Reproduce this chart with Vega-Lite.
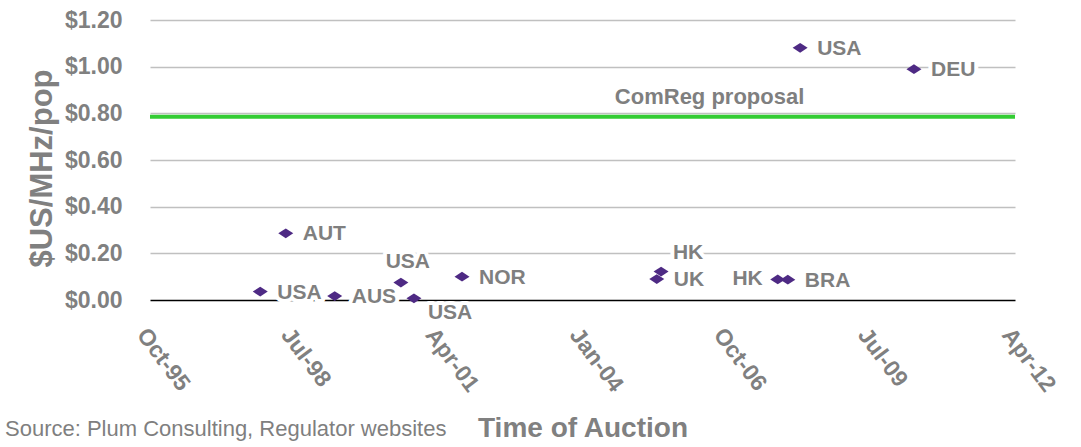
{
  "$schema": "https://vega.github.io/schema/vega-lite/v6.json",
  "width": 865,
  "height": 280,
  "autosize": {"type": "none"},
  "padding": {"left": 150, "top": 20, "right": 66, "bottom": 147},
  "background": "white",
  "config": {"view": {"stroke": null}, "font": "Liberation Sans"},
  "title": {
    "text": "Source: Plum Consulting, Regulator websites",
    "orient": "bottom",
    "anchor": "start",
    "frame": "group",
    "offset": -23,
    "dx": -145,
    "fontSize": 22,
    "font": "Liberation Sans",
    "fontWeight": "normal",
    "color": "#7F7F7F"
  },
  "datasets": {
    "auctions": [
      {"date": "1997-11-07", "value": 0.036, "country": "USA"},
      {"date": "1998-05-04", "value": 0.286, "country": "AUT"},
      {"date": "1999-04-10", "value": 0.017, "country": "AUS"},
      {"date": "2000-07-14", "value": 0.075, "country": "USA"},
      {"date": "2000-10-13", "value": 0.007, "country": "USA"},
      {"date": "2001-09-13", "value": 0.1, "country": "NOR"},
      {"date": "2005-06-01", "value": 0.09, "country": "UK"},
      {"date": "2005-07-01", "value": 0.122, "country": "HK"},
      {"date": "2007-09-22", "value": 0.088, "country": "HK"},
      {"date": "2007-12-01", "value": 0.087, "country": "BRA"},
      {"date": "2008-02-25", "value": 1.081, "country": "USA"},
      {"date": "2010-04-28", "value": 0.989, "country": "DEU"}
    ],
    "comreg": [
      {"date": "2004-08-13", "value": 0.785, "country": "ComReg proposal"}
    ]
  },
  "layer": [
    {
      "data": {"name": "comreg"},
      "mark": {"type": "rule", "color": "#33CC33", "strokeWidth": 4},
      "encoding": {"y": {"field": "value", "type": "quantitative"}}
    },
    {
      "data": {"name": "comreg"},
      "mark": {"type": "text", "align": "left", "baseline": "middle", "dy": -20, "fontSize": 22, "fontWeight": "bold", "color": "#7F7F7F"},
      "encoding": {
        "x": {"field": "date", "type": "temporal"},
        "y": {"field": "value", "type": "quantitative"},
        "text": {"field": "country"}
      }
    },
    {
      "data": {"name": "auctions"},
      "transform": [{"filter": {"not": {"field": "value", "oneOf": [0.075, 0.007, 0.122, 0.088]}}}],
      "mark": {"type": "text", "align": "left", "baseline": "middle", "dx": 17, "dy": 1, "fontSize": 21, "fontWeight": "bold", "color": "white", "stroke": "white", "strokeWidth": 8, "strokeJoin": "round"},
      "encoding": {"x": {"field": "date", "type": "temporal"}, "y": {"field": "value", "type": "quantitative"}, "text": {"field": "country"}}
    },
    {
      "data": {"name": "auctions"},
      "transform": [{"filter": {"field": "value", "equal": 0.075}}],
      "mark": {"type": "text", "align": "center", "baseline": "middle", "dx": 7, "dy": -21, "fontSize": 21, "fontWeight": "bold", "color": "white", "stroke": "white", "strokeWidth": 8, "strokeJoin": "round"},
      "encoding": {"x": {"field": "date", "type": "temporal"}, "y": {"field": "value", "type": "quantitative"}, "text": {"field": "country"}}
    },
    {
      "data": {"name": "auctions"},
      "transform": [{"filter": {"field": "value", "equal": 0.122}}],
      "mark": {"type": "text", "align": "center", "baseline": "middle", "dx": 27, "dy": -19, "fontSize": 21, "fontWeight": "bold", "color": "white", "stroke": "white", "strokeWidth": 8, "strokeJoin": "round"},
      "encoding": {"x": {"field": "date", "type": "temporal"}, "y": {"field": "value", "type": "quantitative"}, "text": {"field": "country"}}
    },
    {
      "data": {"name": "auctions"},
      "transform": [{"filter": {"field": "value", "equal": 0.007}}],
      "mark": {"type": "text", "align": "left", "baseline": "middle", "dx": 14, "dy": 15, "fontSize": 21, "fontWeight": "bold", "color": "white", "stroke": "white", "strokeWidth": 8, "strokeJoin": "round"},
      "encoding": {"x": {"field": "date", "type": "temporal"}, "y": {"field": "value", "type": "quantitative"}, "text": {"field": "country"}}
    },
    {
      "data": {"name": "auctions"},
      "transform": [{"filter": {"field": "value", "equal": 0.088}}],
      "mark": {"type": "text", "align": "right", "baseline": "middle", "dx": -15, "dy": 0, "fontSize": 21, "fontWeight": "bold", "color": "white", "stroke": "white", "strokeWidth": 8, "strokeJoin": "round"},
      "encoding": {"x": {"field": "date", "type": "temporal"}, "y": {"field": "value", "type": "quantitative"}, "text": {"field": "country"}}
    },
    {
      "data": {"name": "auctions"},
      "mark": {"type": "point", "shape": "M-1,0L0,-0.65L1,0L0,0.65Z", "filled": true, "size": 225, "color": "#4E2A84", "opacity": 1},
      "encoding": {
        "x": {
          "field": "date",
          "type": "temporal",
          "scale": {"domain": [{"year": 1995, "month": 10, "date": 1}, {"year": 2012, "month": 4, "date": 1}]},
          "axis": {
            "title": "Time of Auction",
            "values": [
              {"year": 1995, "month": 10, "date": 1},
              {"year": 1998, "month": 7, "date": 1},
              {"year": 2001, "month": 4, "date": 1},
              {"year": 2004, "month": 1, "date": 1},
              {"year": 2006, "month": 10, "date": 1},
              {"year": 2009, "month": 7, "date": 1},
              {"year": 2012, "month": 4, "date": 1}
            ],
            "format": "%b-%y",
            "labelAngle": 53,
            "labelAlign": "left",
            "labelBaseline": "top",
            "labelPadding": 24,
            "labelFontSize": 23,
            "labelFontWeight": "bold",
            "labelColor": "#808080",
            "labelOverlap": false,
            "labelFlush": false,
            "labelBound": false,
            "ticks": false,
            "domain": false,
            "grid": false,
            "titleFont": "Liberation Sans",
            "titleFontSize": 28,
            "titleFontWeight": "bold",
            "titleColor": "#808080",
            "titleBaseline": "middle",
            "titleY": 128
          }
        },
        "y": {
          "field": "value",
          "type": "quantitative",
          "scale": {"domain": [0, 1.2]},
          "axis": {
            "title": "$US/MHz/pop",
            "values": [0, 0.2, 0.4, 0.6, 0.8, 1, 1.2],
            "format": "$.2f",
            "labelFontSize": 23,
            "labelFontWeight": "bold",
            "labelColor": "#808080",
            "labelPadding": 28,
            "ticks": false,
            "domain": false,
            "grid": true,
            "gridColor": {"condition": {"test": "datum.value === 0", "value": "#000000"}, "value": "#C0C0C0"},
            "gridWidth": 1.5,
            "titleFontSize": 31,
            "titleFontWeight": "bold",
            "titleColor": "#808080",
            "titlePadding": 6,
            "titleY": 148
          }
        }
      }
    },
    {
      "data": {"name": "auctions"},
      "transform": [{"filter": {"not": {"field": "value", "oneOf": [0.075, 0.007, 0.122, 0.088]}}}],
      "mark": {"type": "text", "align": "left", "baseline": "middle", "dx": 17, "dy": 1, "fontSize": 21, "fontWeight": "bold", "color": "#7F7F7F"},
      "encoding": {"x": {"field": "date", "type": "temporal"}, "y": {"field": "value", "type": "quantitative"}, "text": {"field": "country"}}
    },
    {
      "data": {"name": "auctions"},
      "transform": [{"filter": {"field": "value", "equal": 0.075}}],
      "mark": {"type": "text", "align": "center", "baseline": "middle", "dx": 7, "dy": -21, "fontSize": 21, "fontWeight": "bold", "color": "#7F7F7F"},
      "encoding": {"x": {"field": "date", "type": "temporal"}, "y": {"field": "value", "type": "quantitative"}, "text": {"field": "country"}}
    },
    {
      "data": {"name": "auctions"},
      "transform": [{"filter": {"field": "value", "equal": 0.122}}],
      "mark": {"type": "text", "align": "center", "baseline": "middle", "dx": 27, "dy": -19, "fontSize": 21, "fontWeight": "bold", "color": "#7F7F7F"},
      "encoding": {"x": {"field": "date", "type": "temporal"}, "y": {"field": "value", "type": "quantitative"}, "text": {"field": "country"}}
    },
    {
      "data": {"name": "auctions"},
      "transform": [{"filter": {"field": "value", "equal": 0.007}}],
      "mark": {"type": "text", "align": "left", "baseline": "middle", "dx": 14, "dy": 15, "fontSize": 21, "fontWeight": "bold", "color": "#7F7F7F"},
      "encoding": {"x": {"field": "date", "type": "temporal"}, "y": {"field": "value", "type": "quantitative"}, "text": {"field": "country"}}
    },
    {
      "data": {"name": "auctions"},
      "transform": [{"filter": {"field": "value", "equal": 0.088}}],
      "mark": {"type": "text", "align": "right", "baseline": "middle", "dx": -15, "dy": 0, "fontSize": 21, "fontWeight": "bold", "color": "#7F7F7F"},
      "encoding": {"x": {"field": "date", "type": "temporal"}, "y": {"field": "value", "type": "quantitative"}, "text": {"field": "country"}}
    }
  ]
}
